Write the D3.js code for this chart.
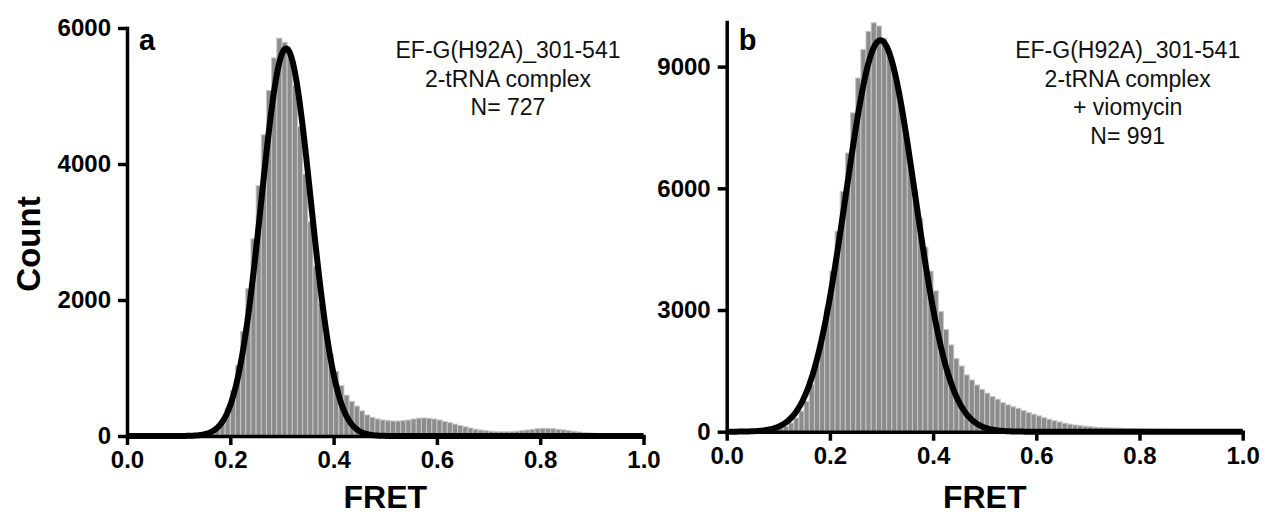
<!DOCTYPE html>
<html>
<head>
<meta charset="utf-8">
<script src="https://cdn.jsdelivr.net/npm/d3@7"></script>
<style>
  body { margin: 0; background: #fff; }
  svg text { font-family: "Liberation Sans", Arial, Helvetica, sans-serif; }
  .axis path, .axis line { stroke: #000; stroke-width: 3.5; }
  .axis text { font-size: 24px; font-weight: bold; fill: #000; }
</style>
</head>
<body>
<div id="chart"></div>
<script>
// histogram bins run from FRET 0.00 to 1.00, 0.01 wide
const binWidth = 0.01;

// counts per bin
const countsA = [
    0, 0, 0, 0, 0, 0, 0, 0, 0, 0,
    2, 4, 7, 12, 22, 40, 70, 130, 240, 410,
    670, 1040, 1540, 2170, 2900, 3680, 4430, 5080, 5560, 5850,
    5790, 5600, 5150, 4550, 3850, 3150, 2500, 1950, 1500, 1200,
    950, 740, 600, 510, 440, 370, 310, 275, 250, 235,
    225, 220, 220, 225, 235, 250, 262, 265, 260, 250,
    235, 215, 195, 175, 155, 135, 118, 100, 88, 78,
    70, 65, 62, 62, 65, 70, 78, 88, 98, 108,
    113, 112, 108, 100, 90, 80, 70, 60, 52, 45,
    40, 34, 28, 22, 17, 13, 10, 7, 5, 3
];

const countsB = [
    0, 1, 2, 3, 5, 8, 12, 20, 32, 50,
    80, 130, 215, 340, 510, 750, 1160, 1650, 2310, 3050,
    3960, 4940, 5925, 6870, 7860, 8720, 9420, 9870, 10080, 10000,
    9700, 9300, 8800, 8150, 7450, 6700, 5950, 5250, 4550, 3960,
    3470, 2960, 2520, 2140, 1800, 1620, 1400, 1275, 1150, 1045,
    950, 865, 800, 715, 660, 615, 575, 520, 470, 430,
    390, 345, 305, 270, 240, 210, 185, 165, 148, 135,
    122, 110, 102, 97, 92, 88, 84, 80, 76, 72,
    68, 66, 64, 62, 60, 58, 56, 54, 52, 50,
    48, 45, 42, 40, 37, 34, 31, 28, 24, 20
];

// single gaussian fits: [amplitude, centre, sd]
const fitA = [5700, 0.308, 0.048];
const fitB = [9650, 0.298, 0.067];

const xTicks = [0, 0.2, 0.4, 0.6, 0.8, 1.0];
const yTicksA = [0, 2000, 4000, 6000];
const yTicksB = [0, 3000, 6000, 9000];
const yMaxA = 6000;
const yMaxB = 10100;

const notesA = ['EF-G(H92A)_301-541', '2-tRNA complex', 'N= 727'];
const notesB = ['EF-G(H92A)_301-541', '2-tRNA complex', '+ viomycin', 'N= 991'];


class Histogram {

    constructor(opts) {
        // load in arguments from config object
        this.svg = opts.svg;
        this.counts = opts.counts;
        this.fit = opts.fit;
        this.yMax = opts.yMax;
        this.yTicks = opts.yTicks;
        this.notes = opts.notes;
        this.letter = opts.letter;
        this.box = opts.box;
        this.noteX = opts.noteX;
        this.yLabel = opts.yLabel;
        this.draw();
    }

    draw() {
        const b = this.box;
        this.plot = this.svg.append('g')
            .attr('transform', `translate(${b.left},${b.top})`);

        this.createScales();
        this.addBars();
        this.addFit();
        this.addAxes();
        this.addText();
    }

    createScales() {
        this.xScale = d3.scaleLinear()
            .domain([0, 1])
            .range([0, this.box.width]);

        this.yScale = d3.scaleLinear()
            .domain([0, this.yMax])
            .range([this.box.height, 0]);
    }

    addBars() {
        const x = this.xScale, y = this.yScale;
        this.plot.append('g')
            .selectAll('rect')
            .data(this.counts)
            .enter()
            .append('rect')
            .attr('x', (d, i) => x(i * binWidth))
            .attr('width', x(binWidth) - x(0))
            .attr('y', d => y(d))
            .attr('height', d => y(0) - y(d))
            .attr('fill', '#8c8c8c')
            .attr('stroke', '#c6c6c6')
            .attr('stroke-width', 1);
    }

    addFit() {
        const [amp, mu, sd] = this.fit;
        const pts = d3.range(0, 1.0001, 0.002)
            .map(f => [f, amp * Math.exp(-((f - mu) ** 2) / (2 * sd * sd))]);

        const line = d3.line()
            .x(d => this.xScale(d[0]))
            .y(d => this.yScale(d[1]));

        this.plot.append('path')
            .datum(pts)
            .attr('d', line)
            .attr('fill', 'none')
            .attr('stroke', '#000')
            .attr('stroke-width', 6)
            .attr('stroke-linejoin', 'round');
    }

    addAxes() {
        const xAxis = d3.axisBottom(this.xScale)
            .tickValues(xTicks)
            .tickFormat(d3.format('.1f'))
            .tickSize(9)
            .tickSizeOuter(0)
            .tickPadding(6);

        const yAxis = d3.axisLeft(this.yScale)
            .tickValues(this.yTicks)
            .tickFormat(d3.format('d'))
            .tickSize(9)
            .tickSizeOuter(0)
            .tickPadding(7);

        this.plot.append('g')
            .attr('class', 'axis')
            .attr('transform', `translate(0,${this.box.height})`)
            .call(xAxis);

        this.plot.append('g')
            .attr('class', 'axis')
            .call(yAxis);

        this.plot.selectAll('.axis .domain').attr('stroke-linecap', 'square');
    }

    addText() {
        const b = this.box;

        // panel letter
        this.plot.append('text')
            .attr('x', 12)
            .attr('y', 50 - b.top)
            .attr('font-size', 29)
            .attr('font-weight', 'bold')
            .text(this.letter);

        // description in the top right
        this.plot.append('g')
            .selectAll('text')
            .data(this.notes)
            .enter()
            .append('text')
            .attr('x', this.noteX)
            .attr('y', (d, i) => 58 - b.top + i * 28.5)
            .attr('text-anchor', 'middle')
            .attr('font-size', 23)
            .attr('fill', '#111')
            .text(d => d);

        this.plot.append('text')
            .attr('x', b.width / 2)
            .attr('y', 508 - b.top)
            .attr('text-anchor', 'middle')
            .attr('font-size', 32)
            .attr('font-weight', 'bold')
            .text('FRET');

        if (this.yLabel) {
            this.plot.append('text')
                .attr('transform', `translate(${40 - b.left},${244 - b.top}) rotate(-90)`)
                .attr('text-anchor', 'middle')
                .attr('font-size', 33)
                .attr('font-weight', 'bold')
                .text(this.yLabel);
        }
    }
}

const svg = d3.select('#chart').append('svg')
    .attr('width', 1265)
    .attr('height', 515);

svg.append('rect')
    .attr('width', '100%')
    .attr('height', '100%')
    .attr('fill', '#fff');

new Histogram({
    svg: svg,
    counts: countsA,
    fit: fitA,
    yMax: yMaxA,
    yTicks: yTicksA,
    notes: notesA,
    letter: 'a',
    box: {left: 127, top: 28, width: 516.5, height: 408},
    noteX: 381,
    yLabel: 'Count'
});

new Histogram({
    svg: svg,
    counts: countsB,
    fit: fitB,
    yMax: yMaxB,
    yTicks: yTicksB,
    notes: notesB,
    letter: 'b',
    box: {left: 726.7, top: 22, width: 516, height: 409.7},
    noteX: 401
});
</script>
</body>
</html>
